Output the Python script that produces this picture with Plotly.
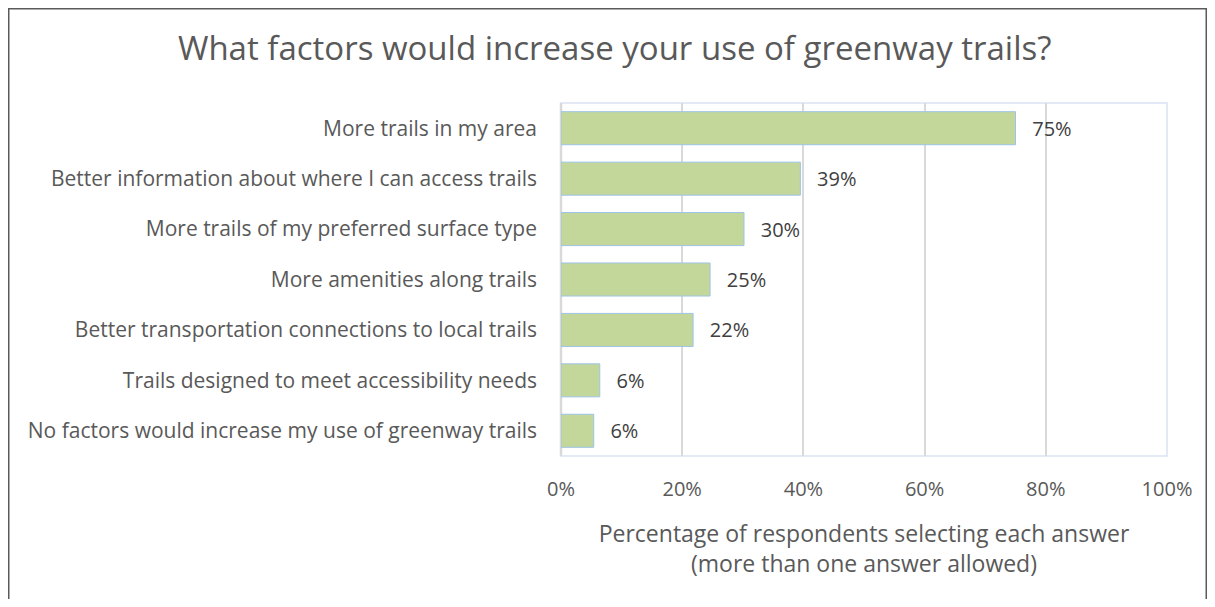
import plotly.graph_objects as go

categories = [
    "More trails in my area",
    "Better information about where I can access trails",
    "More trails of my preferred surface type",
    "More amenities along trails",
    "Better transportation connections to local trails",
    "Trails designed to meet accessibility needs",
    "No factors would increase my use of greenway trails",
]
values = [0.75, 0.395, 0.302, 0.246, 0.218, 0.064, 0.054]
labels = ["75%", "39%", "30%", "25%", "22%", "6%", "6%"]
tick_vals = [0, 0.2, 0.4, 0.6, 0.8, 1.0]
tick_text = ["0%", "20%", "40%", "60%", "80%", "100%"]

FONT = "Open Sans"
W, H = 1199, 591
L, R, T, B = 553, 40, 95, 143
PW, PH = W - L - R, H - T - B

fig = go.Figure(go.Bar(
    y=categories, x=values, orientation="h",
    marker=dict(color="#c4d79b", line=dict(color="#9dc3e6", width=1)),
    text=labels, texttemplate="  \u2009%{text}", textposition="outside",
    textfont=dict(size=20, color="#404040", family=FONT),
    cliponaxis=False,
))

fig.update_layout(
    width=W, height=H,
    margin=dict(l=L, r=R, t=T, b=B),
    paper_bgcolor="white", plot_bgcolor="white",
    bargap=0.345,
    showlegend=False,
    title=dict(text="What factors would increase your use of greenway trails?",
               x=0.506, xanchor="center", y=1 - 40 / H, yanchor="middle",
               font=dict(size=33, color="#595959", family=FONT)),
    xaxis=dict(range=[0, 1], tickvals=tick_vals, ticktext=tick_text,
               showgrid=True, gridcolor="#d9d9d9", gridwidth=1.5,
               zeroline=False, showline=False, ticks="", ticklabelstandoff=19,
               tickfont=dict(size=20, color="#595959", family=FONT),
               title=dict(text="Percentage of respondents selecting each answer<br>(more than one answer allowed)",
                          font=dict(size=23, color="#595959", family=FONT), standoff=24)),
    yaxis=dict(autorange="reversed", showgrid=False, zeroline=False,
               showline=False, ticks="", ticklabelstandoff=23,
               tickfont=dict(size=21, color="#595959", family=FONT)),
    font=dict(family=FONT),
)

# light blue plot frame
fig.add_shape(type="rect", xref="paper", yref="paper", x0=0, x1=1, y0=0, y1=1,
              line=dict(color="#dae3f3", width=1.5), layer="below")
# grey category axis line
fig.add_shape(type="line", xref="paper", yref="paper", x0=0, x1=0, y0=0, y1=1,
              line=dict(color="#d9d9d9", width=2.5), layer="below")
# outer chart border
fig.add_shape(type="rect", xref="paper", yref="paper",
              x0=-(L - 0.75) / PW, x1=1 + (R - 0.75) / PW,
              y0=-(B + 40) / PH, y1=1 + (T - 0.75) / PH,
              line=dict(color="#5a5a5a", width=1.5))

fig.write_html("out.html")
